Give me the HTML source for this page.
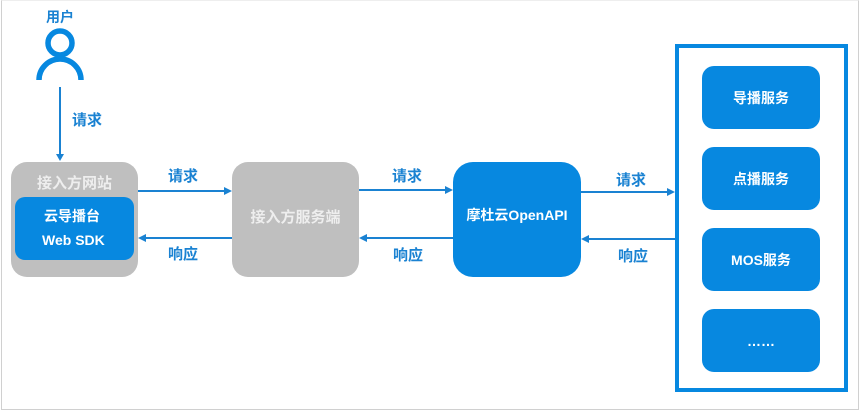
<!DOCTYPE html>
<html><head><meta charset="utf-8"><style>
body{margin:0;width:860px;height:411px;overflow:hidden;background:#fff;font-family:"Liberation Sans","Noto Sans CJK SC",sans-serif;}
.a{position:absolute;box-sizing:border-box;}
.t{position:absolute;font-weight:bold;font-size:15px;color:#1a82d2;white-space:nowrap;}
.g{background:#bfbfbf;border-radius:16px;}
.b{background:#0788e0;border-radius:12px;color:#fff;font-weight:bold;font-size:14px;display:flex;align-items:center;justify-content:center;}
</style></head><body>
<div class="a" style="left:1px;top:0;width:858px;height:410px;border:1px solid #d0d0d0;border-top-color:#eee"></div>
<div class="t" style="left:46px;top:7px;font-size:14px">用户</div>
<svg class="a" style="left:0;top:0" width="860" height="411">
<circle cx="60" cy="43" r="12" fill="none" stroke="#0788e0" stroke-width="5.5"/>
<path d="M39 80 A21 21 0 0 1 81 80" fill="none" stroke="#0788e0" stroke-width="5.5"/>
<g stroke="#1a82d2" stroke-width="2" fill="#1a82d2">
<line x1="60" y1="87" x2="60" y2="156"/><polygon points="56,154 64,154 60,161" stroke="none"/>
<line x1="138" y1="191" x2="226" y2="191"/><polygon points="224,187 232,191 224,195" stroke="none"/>
<line x1="144" y1="238" x2="232" y2="238"/><polygon points="146,234 138,238 146,242" stroke="none"/>
<line x1="359" y1="190" x2="447" y2="190"/><polygon points="445,186 453,190 445,194" stroke="none"/>
<line x1="365" y1="238" x2="453" y2="238"/><polygon points="367,234 359,238 367,242" stroke="none"/>
<line x1="581" y1="192" x2="669" y2="192"/><polygon points="667,188 675,192 667,196" stroke="none"/>
<line x1="587" y1="239" x2="675" y2="239"/><polygon points="589,235 581,239 589,243" stroke="none"/>
</g></svg>
<div class="t" style="left:72px;top:109px">请求</div>
<div class="t" style="left:168px;top:165px">请求</div>
<div class="t" style="left:168px;top:243px">响应</div>
<div class="t" style="left:392px;top:165px">请求</div>
<div class="t" style="left:393px;top:244px">响应</div>
<div class="t" style="left:616px;top:169px">请求</div>
<div class="t" style="left:618px;top:245px">响应</div>
<div class="a g" style="left:11px;top:162px;width:127px;height:115px"></div>
<div class="a" style="left:11px;top:172px;width:127px;text-align:center;color:#eee;font-weight:bold;font-size:15px">接入方网站</div>
<div class="a" style="left:15px;top:197px;width:119px;height:63px;background:#0788e0;border-radius:10px;color:#fff;font-weight:bold;font-size:14px;line-height:24px;padding-top:7px;padding-left:29px">云导播台<br><span style="margin-left:-2px">Web SDK</span></div>
<div class="a g" style="left:232px;top:162px;width:127px;height:115px;display:flex;align-items:center;justify-content:center;color:#eee;font-weight:bold;font-size:15px;padding-bottom:6px">接入方服务端</div>
<div class="a b" style="left:453px;top:162px;width:128px;height:115px;border-radius:20px;padding-bottom:10px">摩杜云OpenAPI</div>
<div class="a" style="left:675px;top:44px;width:173px;height:348px;border:4px solid #0788e0"></div>
<div class="a b" style="left:702px;top:66px;width:118px;height:63px">导播服务</div>
<div class="a b" style="left:702px;top:147px;width:118px;height:63px">点播服务</div>
<div class="a b" style="left:702px;top:228px;width:118px;height:63px">MOS服务</div>
<div class="a b" style="left:702px;top:309px;width:118px;height:63px">……</div>
</body></html>
